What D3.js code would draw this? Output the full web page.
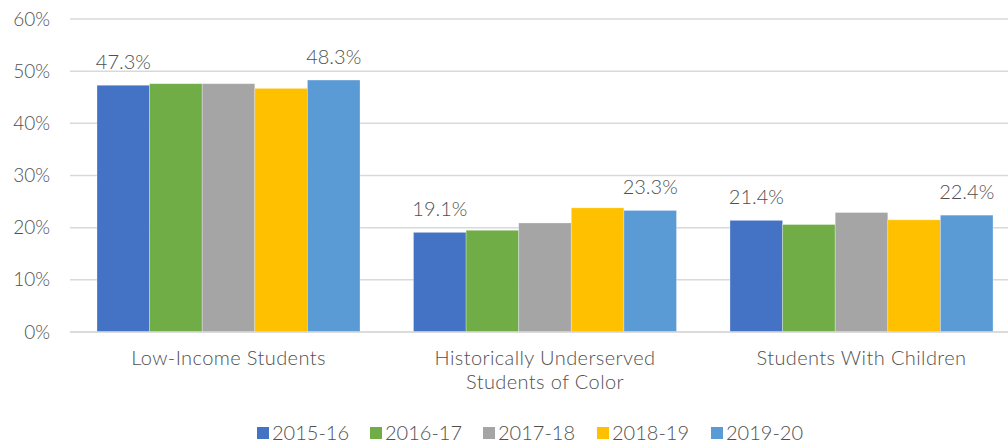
<!DOCTYPE html>
<html><head><meta charset="utf-8">
<script src="https://cdn.jsdelivr.net/npm/d3@7"></script>
<style>
html,body{margin:0;padding:0;background:#fff;}
svg{display:block;font-family:"Lato Light", Lato, "Noto Sans", sans-serif;font-weight:300;}
</style></head>
<body>
<svg id="chart" width="1008" height="443"></svg>
<script>
const categories = [["Low-Income Students"], ["Historically Underserved", "Students of Color"], ["Students With Children"]];
const seriesNames = ["2015-16", "2016-17", "2017-18", "2018-19", "2019-20"];
const colors = ["#4472C4", "#70AD47", "#A5A5A5", "#FFC000", "#5B9BD5"];
const s2015 = [47.3, 19.1, 21.4];
const s2016 = [47.6, 19.5, 20.6];
const s2017 = [47.6, 20.9, 22.9];
const s2018 = [46.7, 23.8, 21.5];
const s2019 = [48.3, 23.3, 22.4];
const seriesValues = [s2015, s2016, s2017, s2018, s2019];
const labeledSeries = [0, 4];
const yTicks = [0, 10, 20, 30, 40, 50, 60];

const svg = d3.select("#chart");
const textColor = "#505050";

const y = d3.scaleLinear().domain([0, 60]).range([332, 19]);
const x0 = d3.scaleBand().domain(d3.range(categories.length)).range([70.25, 1019.75]).paddingInner(0.169).paddingOuter(0.0845);
const x1 = d3.scaleBand().domain(d3.range(seriesNames.length)).range([0, x0.bandwidth()]).padding(0);

// gridlines
svg.append("g").selectAll("line").data(yTicks).join("line")
  .attr("x1", 70).attr("x2", 1008)
  .attr("y1", d => y(d)).attr("y2", d => y(d))
  .attr("stroke", "#d9d9d9").attr("stroke-width", 1.5);

// y tick labels
svg.append("g").selectAll("text").data(yTicks).join("text")
  .attr("x", 50).attr("y", d => y(d)).attr("dy", "0.35em")
  .attr("text-anchor", "end").attr("font-size", 19).attr("fill", textColor)
  .text(d => d + "%");

// bars
const groups = svg.append("g").selectAll("g").data(categories).join("g")
  .attr("transform", (d, i) => `translate(${x0(i)},0)`);
groups.each(function(c, ci) {
  const g = d3.select(this);
  seriesValues.forEach((vals, si) => {
    g.append("rect")
      .attr("x", x1(si)).attr("width", x1.bandwidth())
      .attr("y", y(vals[ci])).attr("height", y(0) - y(vals[ci]))
      .attr("fill", colors[si])
      .attr("stroke", "#ffffff").attr("stroke-opacity", 0.35).attr("stroke-width", 0.8);
  });
  labeledSeries.forEach(si => {
    const v = seriesValues[si][ci];
    g.append("text")
      .attr("x", x1(si) + x1.bandwidth() / 2).attr("y", y(v) - 16)
      .attr("text-anchor", "middle").attr("font-size", 20).attr("fill", textColor)
      .text(v.toFixed(1) + "%");
  });
});

// zero line on top
svg.append("line").attr("x1", 70).attr("x2", 1008).attr("y1", y(0)).attr("y2", y(0))
  .attr("stroke", "#d9d9d9").attr("stroke-width", 1.5);

// category labels
const xl = svg.append("g").selectAll("text").data(categories).join("text")
  .attr("x", (d, i) => x0(i) + x0.bandwidth() / 2)
  .attr("y", 365)
  .attr("text-anchor", "middle").attr("font-size", 20).attr("letter-spacing", 0.4).attr("fill", textColor);
xl.each(function(lines) {
  const t = d3.select(this);
  lines.forEach((ln, k) => {
    t.append("tspan").attr("x", t.attr("x")).attr("dy", k === 0 ? 0 : 24).text(ln);
  });
});

// legend
const legendX = [257, 370, 483, 597, 711];
const lg = svg.append("g").selectAll("g").data(seriesNames).join("g")
  .attr("transform", (d, i) => `translate(${legendX[i]},433)`);
lg.append("rect").attr("x", 0).attr("y", -6).attr("width", 12).attr("height", 12)
  .attr("fill", (d, i) => colors[i]);
lg.append("text").attr("x", 15).attr("y", 0).attr("dy", "0.35em")
  .attr("font-size", 20).attr("fill", textColor).text(d => d);
</script>
</body></html>
